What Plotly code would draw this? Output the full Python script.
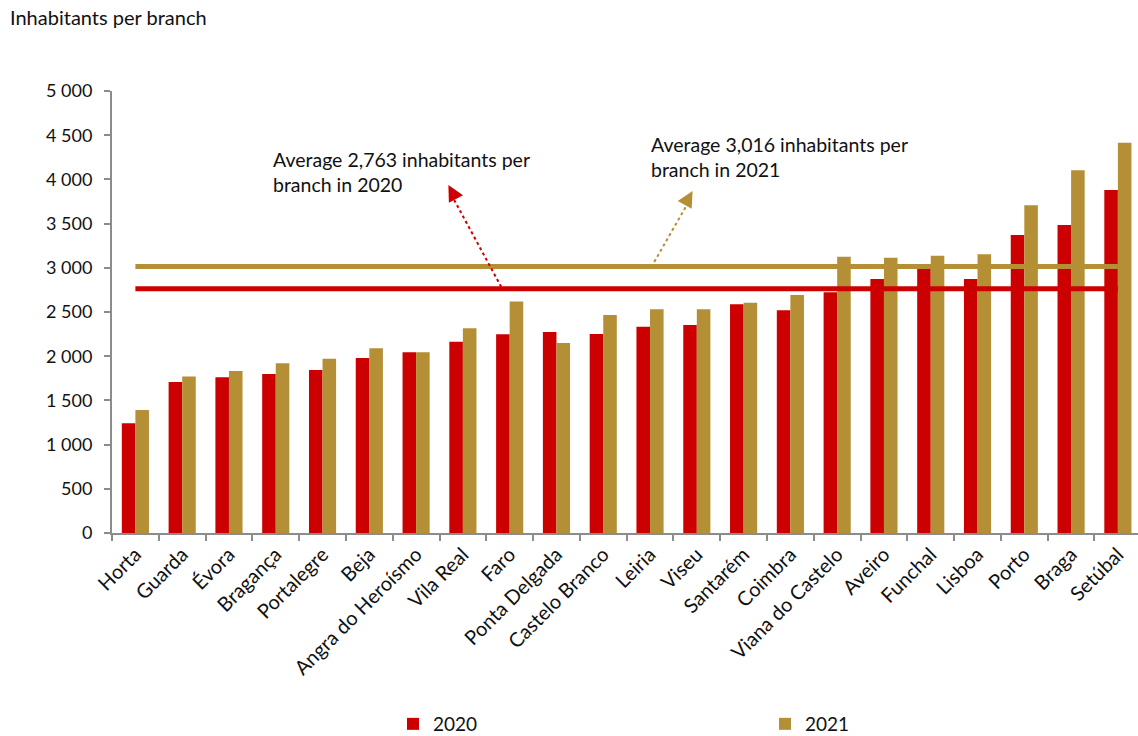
import plotly.graph_objects as go

# Districts / regions, ordered by 2020 ratio
districts = ["Horta", "Guarda", "Évora", "Bragança", "Portalegre", "Beja",
             "Angra do Heroísmo", "Vila Real", "Faro", "Ponta Delgada",
             "Castelo Branco", "Leiria", "Viseu", "Santarém", "Coimbra",
             "Viana do Castelo", "Aveiro", "Funchal", "Lisboa", "Porto",
             "Braga", "Setúbal"]

# Inhabitants per branch
inhab_2020 = [1241, 1708, 1763, 1799, 1844, 1980, 2044, 2163, 2249, 2274,
              2251, 2334, 2353, 2588, 2520, 2723, 2873, 3000, 2873, 3371,
              3484, 3880]
inhab_2021 = [1391, 1770, 1833, 1920, 1970, 2090, 2046, 2317, 2620, 2150,
              2466, 2530, 2530, 2605, 2692, 3126, 3115, 3137, 3152, 3707,
              4103, 4416]

# National averages
avg_2020 = 2763
avg_2021 = 3016

# Y axis ticks
y_tickvals = [0, 500, 1000, 1500, 2000, 2500, 3000, 3500, 4000, 4500, 5000]
y_ticktext = ["0", "500", "1 000", "1 500", "2 000", "2 500", "3 000",
              "3 500", "4 000", "4 500", "5 000"]

RED = "#CC0000"
GOLD = "#B58F35"
AXIS = "#8C8C8C"
INK = "#111111"
FONT = "Lato"

fig = go.Figure()

fig.add_trace(go.Bar(x=districts, y=inhab_2020, name="2020",
                     marker=dict(color=RED, line=dict(width=0)),
                     legend="legend"))
fig.add_trace(go.Bar(x=districts, y=inhab_2021, name="2021",
                     marker=dict(color=GOLD, line=dict(width=0)),
                     legend="legend2"))

# Average lines drawn across the districts
fig.add_trace(go.Scatter(x=[districts[0], districts[-1]], y=[avg_2021, avg_2021],
                         mode="lines", line=dict(color=GOLD, width=5),
                         showlegend=False, hoverinfo="skip"))
fig.add_trace(go.Scatter(x=[districts[0], districts[-1]], y=[avg_2020, avg_2020],
                         mode="lines", line=dict(color=RED, width=5),
                         showlegend=False, hoverinfo="skip"))

# Dotted pointer lines from the averages to their captions
fig.add_shape(type="line", xref="x", yref="y", x0=7.82, y0=avg_2020 + 20,
              x1=6.76, y1=3820, line=dict(color=RED, width=2, dash="dot"))
fig.add_shape(type="line", xref="x", yref="y", x0=11.09, y0=avg_2021 + 50,
              x1=11.84, y1=3760, line=dict(color=GOLD, width=2, dash="dot"))

annotations = [
    dict(text="Average 2,763 inhabitants per<br>branch in 2020",
         xref="paper", yref="paper", x=0.1545, y=0.875,
         xanchor="left", yanchor="top", align="left", showarrow=False,
         font=dict(size=19.5, color=INK, family=FONT)),
    dict(text="Average 3,016 inhabitants per<br>branch in 2021",
         xref="paper", yref="paper", x=0.523, y=0.909,
         xanchor="left", yanchor="top", align="left", showarrow=False,
         font=dict(size=19.5, color=INK, family=FONT)),
    # arrowheads
    dict(text="", xref="x", yref="y", x=6.69, y=3937, showarrow=True,
         arrowhead=2, arrowsize=1.6, arrowwidth=2, arrowcolor=RED,
         ax=0.472 * 12, ay=0.882 * 12),
    dict(text="", xref="x", yref="y", x=11.91, y=3869, showarrow=True,
         arrowhead=2, arrowsize=1.6, arrowwidth=2, arrowcolor=GOLD,
         ax=-0.492 * 12, ay=0.870 * 12),
]

legend_y = 1 - 724 / 736

fig.update_layout(
    width=1138, height=736,
    margin=dict(l=112, r=0, t=91, b=203, autoexpand=False),
    paper_bgcolor="white", plot_bgcolor="white",
    font=dict(family=FONT, size=18, color=INK),
    barmode="group", bargap=0.42, bargroupgap=0,
    title=dict(text="Inhabitants per branch", xref="container", yref="container",
               x=10 / 1138, xanchor="left", y=1 - 18 / 736, yanchor="middle",
               font=dict(size=20, family=FONT, color=INK)),
    xaxis=dict(type="category", range=[-0.5, 21.43], showgrid=False,
               showline=True, linecolor=AXIS, linewidth=2,
               ticks="outside", tickson="boundaries", ticklen=6,
               tickcolor=AXIS, tickwidth=1.5, tickangle=-45,
               automargin=False,
               tickfont=dict(size=20, family=FONT, color=INK)),
    yaxis=dict(range=[0, 5000], showgrid=False, zeroline=False,
               showline=True, linecolor=AXIS, linewidth=2,
               ticks="outside", ticklen=6, tickcolor=AXIS, tickwidth=1.5,
               ticklabelstandoff=8, automargin=False,
               tickvals=y_tickvals, ticktext=y_ticktext,
               tickfont=dict(size=18, family=FONT, color=INK)),
    legend=dict(orientation="h", xref="container", yref="container",
                x=393 / 1138, xanchor="left", y=legend_y, yanchor="middle",
                font=dict(size=19, family=FONT, color=INK)),
    legend2=dict(orientation="h", xref="container", yref="container",
                 x=765 / 1138, xanchor="left", y=legend_y, yanchor="middle",
                 font=dict(size=19, family=FONT, color=INK)),
    annotations=annotations,
)

fig.write_html("out.html")
